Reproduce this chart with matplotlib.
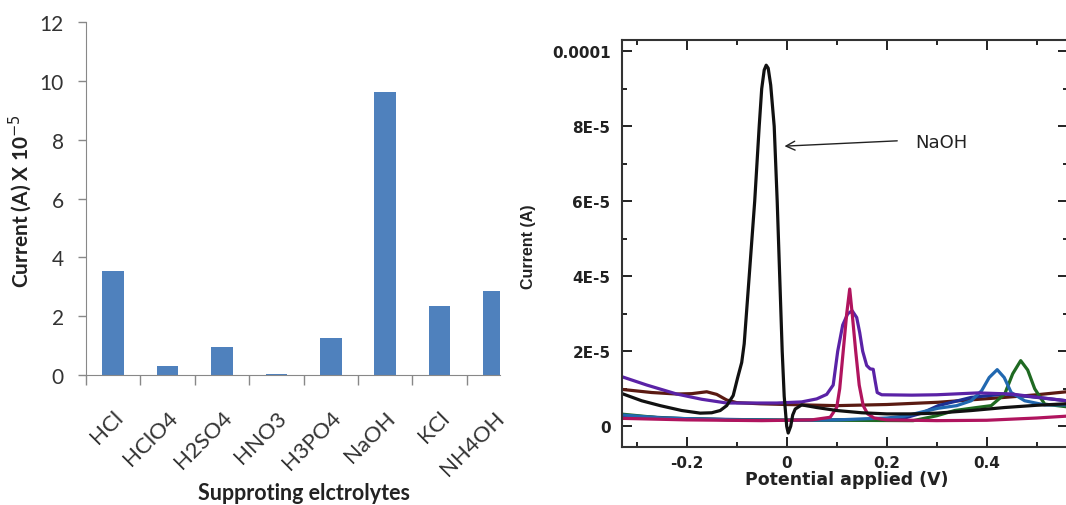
import numpy as np
import matplotlib
matplotlib.use('Agg')
import matplotlib.pyplot as plt
from matplotlib.ticker import MultipleLocator, FixedLocator

# bar chart data (current in units of 1e-5 A)
electrolytes = ['HCl', 'HClO4', 'H2SO4', 'HNO3', 'H3PO4', 'NaOH', 'KCl', 'NH4OH']
peak_current = [3.54, 0.32, 0.94, 0.05, 1.27, 9.62, 2.34, 2.87]

# voltammograms: potential (V), current (1e-5 A)
black_x = [-0.327, -0.29, -0.253, -0.21, -0.173, -0.15, -0.133, -0.12, -0.107, -0.098, -0.09, -0.085,
           -0.075, -0.064, -0.055, -0.05, -0.045, -0.041, -0.037, -0.032, -0.025, -0.019, -0.014,
           -0.009, -0.005, 0.0, 0.003, 0.008, 0.012, 0.017, 0.03, 0.06, 0.1, 0.15, 0.2, 0.25, 0.3,
           0.37, 0.436, 0.5, 0.56]
black_y = [0.86, 0.68, 0.55, 0.42, 0.35, 0.36, 0.42, 0.55, 0.82, 1.3, 1.7, 2.2,
           4.0, 6.0, 8.0, 9.0, 9.5, 9.63, 9.55, 9.1, 8.0, 6.0, 4.0,
           2.0, 0.8, 0.0, -0.18, 0.0, 0.3, 0.46, 0.57, 0.5, 0.42, 0.36, 0.33, 0.33, 0.35,
           0.42, 0.5, 0.56, 0.6]

purple_x = [-0.327, -0.28, -0.22, -0.17, -0.12, -0.02, 0.03, 0.06, 0.08, 0.093, 0.102, 0.112, 0.122,
            0.131, 0.14, 0.146, 0.152, 0.16, 0.167, 0.173, 0.177, 0.181, 0.19, 0.25, 0.3, 0.383,
            0.45, 0.503, 0.56]
purple_y = [1.31, 1.1, 0.86, 0.72, 0.62, 0.62, 0.65, 0.73, 0.85, 1.1, 2.0, 2.7, 3.0,
            3.08, 2.9, 2.5, 2.0, 1.62, 1.53, 1.52, 1.2, 0.9, 0.84, 0.83, 0.84, 0.89,
            0.86, 0.77, 0.68]

magenta_x = [-0.327, -0.2, -0.05, 0.05, 0.087, 0.1, 0.106, 0.113, 0.12, 0.126, 0.131, 0.138, 0.145,
             0.153, 0.162, 0.175, 0.2, 0.3, 0.4, 0.5, 0.56]
magenta_y = [0.21, 0.17, 0.15, 0.17, 0.24, 0.5, 1.0, 2.0, 3.0, 3.66, 3.0, 2.0, 1.1,
             0.55, 0.33, 0.22, 0.17, 0.15, 0.16, 0.22, 0.27]

brown_x = [-0.327, -0.27, -0.22, -0.19, -0.16, -0.14, -0.12, -0.1, -0.053, 0.0, 0.1, 0.2, 0.303,
           0.436, 0.5, 0.56]
brown_y = [0.98, 0.9, 0.86, 0.87, 0.92, 0.85, 0.7, 0.63, 0.6, 0.58, 0.55, 0.58, 0.64,
           0.77, 0.84, 0.92]

blue_x = [-0.327, -0.25, -0.1, 0.0, 0.1, 0.2, 0.236, 0.27, 0.303, 0.34, 0.369, 0.39, 0.405, 0.421,
          0.435, 0.449, 0.476, 0.516, 0.56]
blue_y = [0.3, 0.22, 0.17, 0.16, 0.17, 0.22, 0.27, 0.38, 0.48, 0.55, 0.68, 0.95, 1.3, 1.51,
          1.3, 0.9, 0.68, 0.57, 0.57]

green_x = [-0.327, -0.25, -0.1, 0.1, 0.253, 0.3, 0.336, 0.38, 0.409, 0.436, 0.452, 0.468, 0.482,
           0.496, 0.516, 0.56]
green_y = [0.32, 0.22, 0.17, 0.16, 0.15, 0.28, 0.42, 0.5, 0.55, 0.86, 1.4, 1.75, 1.5,
           1.0, 0.59, 0.52]

navy_x = [-0.327, -0.2, 0.0, 0.15, 0.236, 0.27, 0.303, 0.369, 0.436, 0.5, 0.56]
navy_y = [0.28, 0.2, 0.16, 0.18, 0.22, 0.35, 0.55, 0.77, 0.86, 0.77, 0.68]

traces = [
    (brown_x, brown_y, '#5a1a12'),
    (navy_x, navy_y, '#1c2f92'),
    (green_x, green_y, '#1f6a22'),
    (blue_x, blue_y, '#2168b0'),
    (purple_x, purple_y, '#5a22a6'),
    (magenta_x, magenta_y, '#b0145e'),
    (black_x, black_y, '#111111'),
]

W, H = 1066, 506
fig = plt.figure(figsize=(W / 100, H / 100), dpi=100)

# ---- left: bar chart
ax1 = fig.add_axes([86 / W, 1 - 376 / H, 414 / W, 353 / H])
ax1.bar(range(len(electrolytes)), peak_current, width=0.4, color='#4f81bd')
ax1.set_xlim(-0.5, 7.11)
ax1.set_ylim(0, 12)
ax1.set_yticks(range(0, 13, 2))
ax1.set_xticks(range(len(electrolytes)))
ax1.set_xticklabels(electrolytes, rotation=45, ha='right', va='top', rotation_mode='anchor',
                    fontsize=16, family='Lato', color='#333333')
ax1.xaxis.set_minor_locator(FixedLocator(np.arange(-0.5, 7.6, 1)))
ax1.tick_params(axis='x', which='major', length=0, pad=23)
ax1.tick_params(axis='x', which='minor', length=7, width=1, color='#888888', direction='out')
ax1.tick_params(axis='y', length=6, width=1, color='#888888', pad=10, labelsize=15,
                labelcolor='#333333')
for lab in ax1.get_yticklabels():
    lab.set_family('Lato')
for s in ['top', 'right']:
    ax1.spines[s].set_visible(False)
for s in ['left', 'bottom']:
    ax1.spines[s].set_color('#888888')
fig.text(20 / W, 1 - 201 / H, 'Current (A) X 10$^{-5}$', rotation=90, ha='center', va='center',
         fontsize=15, fontweight='bold', family='Lato', color='#222222')
fig.text(304 / W, 1 - 494 / H, 'Supproting elctrolytes', ha='center', va='center',
         fontsize=15.5, fontweight='bold', family='Lato', color='#222222')

# ---- right: voltammograms
ax2 = fig.add_axes([621.7 / W, 1 - 448 / H, (1068 - 621.7) / W, 407.5 / H])
for xs, ys, c in traces:
    ax2.plot(xs, np.array(ys) * 1e-5, color=c, lw=2.3, solid_joinstyle='round')
ax2.set_xlim(-0.33, 0.5626)
ax2.set_ylim(-0.553e-5, 1.0315e-4)
ax2.xaxis.set_minor_locator(MultipleLocator(0.1))
ax2.yaxis.set_minor_locator(MultipleLocator(1e-5))
ax2.set_xticks([-0.2, 0, 0.2, 0.4])
ax2.set_xticklabels(['-0.2', '0', '0.2', '0.4'])
ax2.set_yticks([0, 2e-5, 4e-5, 6e-5, 8e-5, 1e-4])
ax2.set_yticklabels(['0', '2E-5', '4E-5', '6E-5', '8E-5', '0.0001'])
ax2.tick_params(which='both', direction='in', top=True, right=True, color='#222222')
ax2.tick_params(which='major', length=7, width=1.4)
ax2.tick_params(which='minor', length=3.5, width=1.4)
ax2.tick_params(axis='y', pad=8)
ax2.tick_params(axis='x', pad=6)
for lab in ax2.get_xticklabels() + ax2.get_yticklabels():
    lab.set_fontsize(11)
    lab.set_fontweight('bold')
    lab.set_color('#222222')
for s in ax2.spines.values():
    s.set_color('#333333')
    s.set_linewidth(1.5)

ax2.annotate('', xy=(-0.01, 7.467e-5), xytext=(0.2266, 7.616e-5),
             arrowprops=dict(arrowstyle='->', color='#222222', lw=1, mutation_scale=16))
ax2.text(0.2566, 7.59e-5, 'NaOH', ha='left', va='center', fontsize=13, color='#222222')

fig.text(528 / W, 1 - 247 / H, 'Current (A)', rotation=90, ha='center', va='center',
         fontsize=11.5, fontweight='bold', family='Liberation Sans', color='#222222')
fig.text(847 / W, 1 - 480 / H, 'Potential applied (V)', ha='center', va='center',
         fontsize=12.5, fontweight='bold', color='#222222')

fig.savefig('out.png', dpi=100)
